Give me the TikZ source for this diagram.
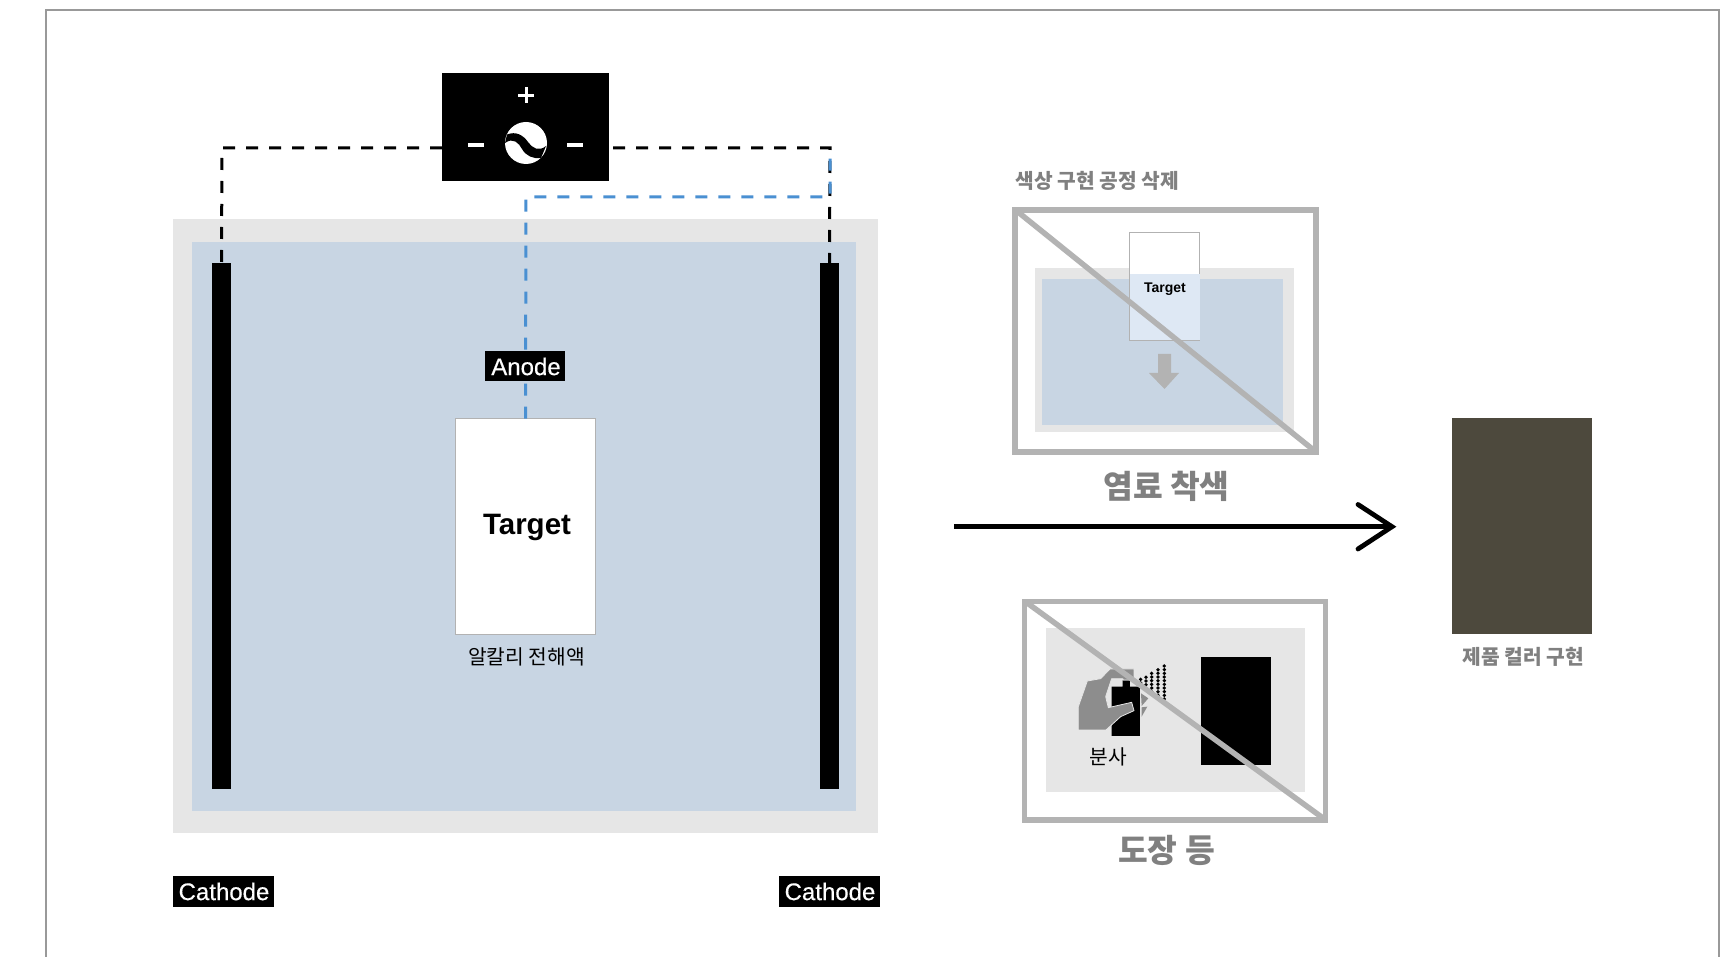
\documentclass[tikz,border=0pt]{standalone}
\usepackage{fontspec}
\setmainfont{Liberation Sans}
\newfontfamily\kr{Noto Sans CJK KR}
\newfontfamily\tagfont[FakeBold=0.35]{Liberation Sans}
\definecolor{tankgray}{HTML}{E6E6E6}
\definecolor{liquid}{HTML}{C8D5E3}
\definecolor{paleblue}{HTML}{DEE8F4}
\definecolor{strike}{HTML}{B3B3B3}
\definecolor{labelgray}{HTML}{808080}
\definecolor{wire}{HTML}{4A90D2}
\definecolor{product}{HTML}{4D493D}
\definecolor{edge}{HTML}{999999}
\tikzset{
  x=1pt,y=-1pt,
  box/.style={rectangle,inner sep=0pt,outer sep=0pt},
  blackbox/.style={box,fill=black},
  tag/.style={box,fill=black,text=white,font=\tagfont\fontsize{24}{24}\selectfont},
  frame/.style={box,draw=strike,line width=5.5pt},
  krlabel/.style={inner sep=0pt,text=labelgray,font=\kr\bfseries\fontsize{20.3}{20.3}\selectfont},
  krbig/.style={inner sep=0pt,text=labelgray,font=\kr\bfseries\fontsize{32.3}{32.3}\selectfont},
  krtext/.style={inner sep=0pt,text=black,font=\kr\fontsize{20.3}{20.3}\selectfont},
  blackwire/.style={black,line width=3pt,dash pattern=on 12pt off 11pt},
  bluewire/.style={wire,line width=3pt,dash pattern=on 12pt off 11pt},
  strikeline/.style={strike,line width=5.5pt},
  whitebar/.style={fill=white,draw=none},
}
\begin{document}
\begin{tikzpicture}
\useasboundingbox (0,0) rectangle (1733,957);
\fill[white] (0,0) rectangle (1733,957);
% page edge
\draw[edge,line width=1.6pt] (46,957) -- (46,10) -- (1719,10) -- (1719,957);
% tank
\node[box,fill=tankgray,minimum width=705pt,minimum height=614pt] (tank) at (525.5,525.7) {};
\node[box,fill=liquid,minimum width=664pt,minimum height=569pt] (bath) at (524,526.5) {};
\node[blackbox,minimum width=19pt,minimum height=526pt] (catL) at (221.5,526) {};
\node[blackbox,minimum width=19pt,minimum height=526pt] (catR) at (829.5,526) {};
\node[box,fill=white,draw=black!30,line width=1pt,minimum width=140pt,minimum height=215.5pt] (target) at (525.5,526.3) {};
\node[inner sep=0pt,font=\bfseries\fontsize{29.5}{29.5}\selectfont] (targettext) at (527,527) {Target};
\node[krtext] (electrolyte) at (526.5,657) {알칼리 전해액};
% wiring
\coordinate (wireL) at (222,148);
\coordinate (wireR) at (830,148);
\coordinate (wireB) at (830,197);
\coordinate (wireT) at (526,197);
\node[blackbox,minimum width=167pt,minimum height=108pt] (power) at (525.5,127) {};
\draw[blackwire] (power.west |- wireL) -- (wireL) -- (catL.north);
\draw[blackwire] ([xshift=4pt]power.east |- wireR) -- (wireR) -- (catR.north);
\draw[bluewire] (target.north) -- (wireT) -- (wireB) -- (wireR);
\node[tag,minimum width=80pt,minimum height=30pt] (anode) at (525,366.5) {\hspace{2pt}Anode};
\node[tag,minimum width=101pt,minimum height=31pt] (cathL) at (223.5,891.5) {\hspace{1pt}Cathode};
\node[tag,minimum width=101pt,minimum height=31pt] (cathR) at (829.5,891.5) {\hspace{1pt}Cathode};
% power symbol
\fill[whitebar] (518,93.6) rectangle (534,96.6);
\fill[whitebar] (524.5,87) rectangle (527.5,103);
\fill[whitebar] (468,143) rectangle (484,147);
\fill[whitebar] (567,143) rectangle (583,147);
\fill[white] (526,143) circle (21);
\fill[black] (507,134.5) .. controls (516,131) and (523,135) .. (528,142) .. controls (532,148) and (539,152) .. (546,146)
  -- (541,158) .. controls (533,159) and (526,156) .. (522,149) .. controls (519,143) and (513,137) .. (505,143) -- cycle;
% dye bath
\node[krlabel] (title) at (1097,181) {색상 구현 공정 삭제};
\node[frame,fill=white,minimum width=301pt,minimum height=242pt] (frameA) at (1165.5,331) {};
\node[box,fill=tankgray,minimum width=259pt,minimum height=164pt] (tankA) at (1164.5,350) {};
\node[box,fill=liquid,minimum width=241pt,minimum height=146pt] (bathA) at (1162.5,352) {};
\node[box,fill=white,draw=black!30,line width=1pt,minimum width=70pt,minimum height=108pt] (targetA) at (1164.7,286.3) {};
\fill[paleblue] (1130.2,274) rectangle (1199.7,339.8);
\node[inner sep=0pt,font=\bfseries\fontsize{14}{14}\selectfont] (targetAtext) at (1165,289) {Target};
\fill[strike] (1158,354) -- (1171,354) -- (1171,373) -- (1179,373) -- (1164.5,389) -- (1149,373) -- (1158,373) -- cycle;
\draw[strikeline] (frameA.north west) ++(3,2) -- (1316,452);
\node[krbig] (dye) at (1166.5,486) {염료 착색};
% main arrow
\coordinate (arrowS) at (954,526.7);
\coordinate (arrowE) at (1392,526.7);
\coordinate (barbA) at (1358,504.5);
\coordinate (barbB) at (1358,549);
\draw[black,line width=4.8pt] (arrowS) -- (arrowE);
\draw[black,line width=4.8pt,line cap=round,line join=miter] (barbA) -- (arrowE) -- (barbB);
% product
\node[box,fill=product,minimum width=140pt,minimum height=216pt] (prod) at (1522,526) {};
\node[krlabel] (prodtext) at (1523,657) {제품 컬러 구현};
% spray
\node[frame,fill=white,minimum width=300.8pt,minimum height=218.5pt] (frameB) at (1175,710.5) {};
\node[box,fill=tankgray,minimum width=259pt,minimum height=164pt] (tankB) at (1175.5,710) {};
\node[blackbox,minimum width=70pt,minimum height=108pt] (work) at (1236,711) {};
\begin{scope}[shift={(1010,600)},x=0.3333pt,y=-0.3333pt]
\fill[black] (305,408) -- (305,260) -- (338,260) -- (338,241) -- (360,241) -- (360,260) -- (390,260) -- (390,408) -- cycle;
\fill[labelgray!90!white,draw=tankgray,line width=0.8pt] (205,390) -- (205,320) -- (232,243) -- (272,236) -- (300,207) -- (372,207) -- (372,240) -- (340,240) -- (338,236) -- (305,236) -- (287,290) -- (295,323) -- (365,307) -- (372,332) -- (332,350) -- (288,390) -- cycle;
\fill[labelgray!90!white] (393,280) -- (415,295) -- (395,318) -- cycle;
\fill[labelgray!90!white] (395,322) -- (412,320) -- (395,350) -- cycle;
\foreach \cx/\ya/\yb in {463/198/298,444/209/287,425/220/276,408/232/265,392/238/250}{
  \pgfmathsetmacro{\yn}{\ya+11}
  \foreach \cy in {\ya,\yn,...,\yb}{\fill[black] (\cx,\cy) circle (1.9pt);}
}
\end{scope}
\node[krtext] (spray) at (1108,757) {분사};
\draw[strikeline] (frameB.north west) ++(3,2) -- (1325,819.5);
\node[krbig] (paint) at (1166.5,850.5) {도장 등};
\end{tikzpicture}
\end{document}
